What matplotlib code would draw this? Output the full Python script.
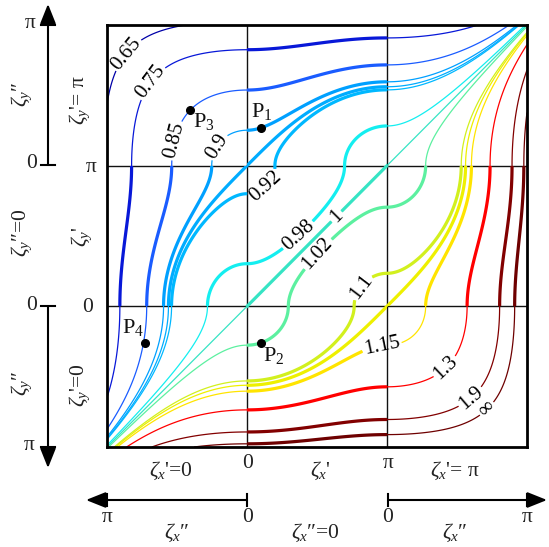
import numpy as np
import matplotlib
matplotlib.use('Agg')
import matplotlib.pyplot as plt
from matplotlib.patches import Polygon, FancyArrowPatch
from matplotlib.lines import Line2D

plt.rcParams['font.family'] = ['Liberation Serif', 'DejaVu Serif']
plt.rcParams['mathtext.fontset'] = 'custom'
plt.rcParams['mathtext.rm'] = 'Liberation Serif'
plt.rcParams['mathtext.it'] = 'Liberation Serif:italic'

PI = np.pi
W, H = 549, 547

# ---- contour data (levels of cos(zeta_x) - cos(zeta_y)) ----
level_labels = ['\u221e', '1.9', '1.3', '1.15', '', '1.1', '1.02', '1', '0.98',
                '0.92', '', '0.9', '0.85', '0.75', '0.65']
level_d = [-9.8, -7.3, -4.1, -2.4, -2.0, -1.74, -0.40, 0.0, 0.42,
           1.81, 2.0, 2.33, 3.8, 7.7, 13.7]
level_colors = ['#6e0000', '#820000', '#ff0000', '#ffe400', '#eef000', '#d2f01e',
                '#5cf0a0', '#36e4c4', '#14eef0', '#00b8ff', '#00acff', '#00a0ff',
                '#1a5cff', '#0818d8', '#0000a8']
# approximate label spots (pixels)
label_px = [(489, 411), (472, 399), (447, 369), (381, 340), None, (360, 286),
            (320, 256), (335, 215), (298, 235), (267, 188), None, (215, 145),
            (177, 141), (152, 83), (128, 55)]

# marked points (plot units)
p_names = ['1', '2', '3', '4']
p_s = [3.456, 3.456, 1.862, 0.853]
p_t = [7.126, 2.323, 7.527, 2.323]
p_text_px = [(262, 111), (274, 355), (204, 121), (133, 328)]


def px2fig(x, y):
    return x / W, 1 - y / H


def px2data(x, y):
    return (x - 107) / 420 * 3 * PI, (447 - y) / 422 * 3 * PI


def cos_ext(u):
    return np.where(u < PI, np.cosh(PI - u),
                    np.where(u <= 2 * PI, np.cos(u - PI), -np.cosh(u - 2 * PI)))


s = np.linspace(0, 3 * PI, 1501)
cx = cos_ext(s)
cy = cos_ext(s)
D = cx[None, :] - cy[:, None]

fig = plt.figure(figsize=(W / 100, H / 100), dpi=100)
ax = fig.add_axes([107 / W, 1 - 447 / H, 420 / W, 422 / H])
ax.set_xlim(0, 3 * PI)
ax.set_ylim(0, 3 * PI)
ax.set_xticks([])
ax.set_yticks([])
for sp in ax.spines.values():
    sp.set_linewidth(2)
    sp.set_zorder(6)

for v in (PI, 2 * PI):
    ax.axvline(v, color='#111111', lw=1.0, zorder=1)
    ax.axhline(v, color='#111111', lw=1.0, zorder=1)

cs_thin = ax.contour(s, s, D, levels=level_d, colors=level_colors, linewidths=0.9, zorder=2)
cs_thick = ax.contour(s, s, D, levels=level_d, colors=level_colors, linewidths=2.3, zorder=3)
cross = [(PI, 0), (2 * PI, 0), (2 * PI, PI), (3 * PI, PI), (3 * PI, 2 * PI), (2 * PI, 2 * PI),
         (2 * PI, 3 * PI), (PI, 3 * PI), (PI, 2 * PI), (0, 2 * PI), (0, PI), (PI, PI)]
clip = Polygon(cross, closed=True, transform=ax.transData)
cs_thick.set_clip_path(clip)

fmt = {lv: lb for lv, lb in zip(cs_thin.levels, level_labels)}
pos = [px2data(*p) for p in label_px if p is not None]

LFS = 15
t1 = cs_thick.clabel(manual=pos, inline=True, fmt=fmt, fontsize=LFS,
                     colors='k', inline_spacing=2)
for t in list(t1):
    t.remove()
cs_thin.clabel(manual=pos, inline=True, fmt=fmt, fontsize=LFS,
               colors='k', inline_spacing=2)

ax.plot(p_s, p_t, 'o', color='k', ms=5.5, zorder=7)
for n, (x, y) in zip(p_names, p_text_px):
    fx, fy = px2fig(x, y)
    fig.text(fx, fy, 'P$_{%s}$' % n, fontsize=16, ha='center', va='center', color='#111111')

txtc = '#222222'
TFS = 15.5


def ftext(x, y, txt, rot=0, size=TFS):
    fx, fy = px2fig(x, y)
    fig.text(fx, fy, txt, fontsize=size, ha='center', va='center', rotation=rot, color=txtc)


def fline(x0, y0, x1, y1, lw=1.5):
    a0 = px2fig(x0, y0)
    a1 = px2fig(x1, y1)
    fig.add_artist(Line2D([a0[0], a1[0]], [a0[1], a1[1]], transform=fig.transFigure,
                          color='k', lw=lw))


def farrow(x0, y0, x1, y1):
    arr = FancyArrowPatch(px2fig(x0, y0), px2fig(x1, y1), transform=fig.transFigure,
                          arrowstyle='-|>,head_length=0.75,head_width=0.3',
                          mutation_scale=16, lw=1.5, color='k', shrinkA=0, shrinkB=0)
    fig.add_artist(arr)


# frame tick labels
ftext(91, 167, 'π')
ftext(88, 307, '0')
ftext(248, 463, '0')
ftext(388, 463, 'π')

# left arrows
farrow(48, 165, 48, 4)
fline(41, 165, 55, 165)
fline(41, 25, 55, 25)
ftext(30, 24, 'π')
ftext(32, 163, '0')
farrow(48, 306, 48, 468)
fline(41, 306, 55, 306)
fline(41, 447, 55, 447)
ftext(32, 306, '0')
ftext(29, 446, 'π')

# bottom arrows
farrow(247, 500, 86, 500)
fline(107, 494, 107, 506)
fline(247, 494, 247, 506)
farrow(388, 500, 547, 500)
fline(388, 494, 388, 506)
fline(527, 494, 527, 506)
ftext(107, 517, 'π')
ftext(248, 517, '0')
ftext(388, 517, '0')
ftext(527, 517, 'π')

# axis texts
ftext(171, 471, r"$\zeta_x$'=0")
ftext(320, 471, r"$\zeta_x$'")
ftext(455, 471, r"$\zeta_x$'= π")
ftext(177, 533, r"$\zeta_x$″")
ftext(315, 533, r"$\zeta_x$″=0")
ftext(455, 533, r"$\zeta_x$″")

ftext(22, 94, r"$\zeta_y$″", rot=90)
ftext(80, 100, r"$\zeta_y$'= π", rot=90)
ftext(22, 233, r"$\zeta_y$″=0", rot=90)
ftext(82, 237, r"$\zeta_y$'", rot=90)
ftext(22, 383, r"$\zeta_y$″", rot=90)
ftext(80, 385, r"$\zeta_y$'=0", rot=90)

fig.savefig('out.png', dpi=100)
